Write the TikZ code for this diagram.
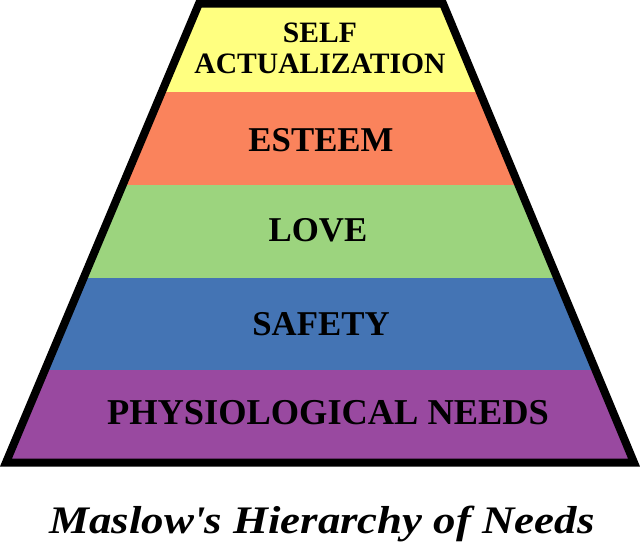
\documentclass[tikz,border=0pt]{standalone}
\usepackage{tikz}
\usepackage{fontspec}
\usetikzlibrary{positioning}

\newfontfamily\levelfont{Liberation Serif}
\newfontfamily\titlefont[FakeStretch=1.15]{Liberation Serif}

\definecolor{selfyellow}{RGB}{255,255,128}
\definecolor{esteemorange}{RGB}{250,131,92}
\definecolor{lovegreen}{RGB}{156,212,126}
\definecolor{safetyblue}{RGB}{68,116,180}
\definecolor{physpurple}{RGB}{153,73,160}

\begin{document}
\begin{tikzpicture}[x=0.5pt, y=-0.5pt,
    level/.style={font=\levelfont\fontsize{17.4}{18}\selectfont\bfseries, align=center, inner sep=0pt},
    caption/.style={font=\titlefont\fontsize{19.5}{21}\selectfont\bfseries\itshape, inner sep=0pt}]
        \useasboundingbox (0,0) rectangle (640,546);

        % Bands
        \begin{scope}
        \clip (199,3.5) -- (443,3.5) -- (634,462.5) -- (6,462.5) -- cycle;
        \fill[selfyellow] (0,0) rectangle (640,92);
        \fill[esteemorange] (0,92) rectangle (640,185);
        \fill[lovegreen] (0,185) rectangle (640,278);
        \fill[safetyblue] (0,278) rectangle (640,370);
        \fill[physpurple] (0,370) rectangle (640,470);
        \end{scope}

        % Outline
        \draw[line width=4pt, line join=miter] (199,3.5) -- (443,3.5) -- (634,462.5) -- (6,462.5) -- cycle;

        % Labels
        \node[level, font=\levelfont\fontsize{14.8}{15.5}\selectfont\bfseries] (self) at (320,48) {SELF\\ACTUALIZATION};
        \node[level] (esteem) at (321,140) {ESTEEM};
        \node[level] (love) at (318,230) {LOVE};
        \node[level] (safety) at (321,324) {SAFETY};
        \node[level, font=\levelfont\fontsize{18.2}{19}\selectfont\bfseries] (phys) at (328,413) {PHYSIOLOGICAL NEEDS};

        % Title
        \node[caption, anchor=base] (title) at (322,533) {Maslow\textquotesingle s Hierarchy of Needs};
      \end{tikzpicture}
\end{document}
